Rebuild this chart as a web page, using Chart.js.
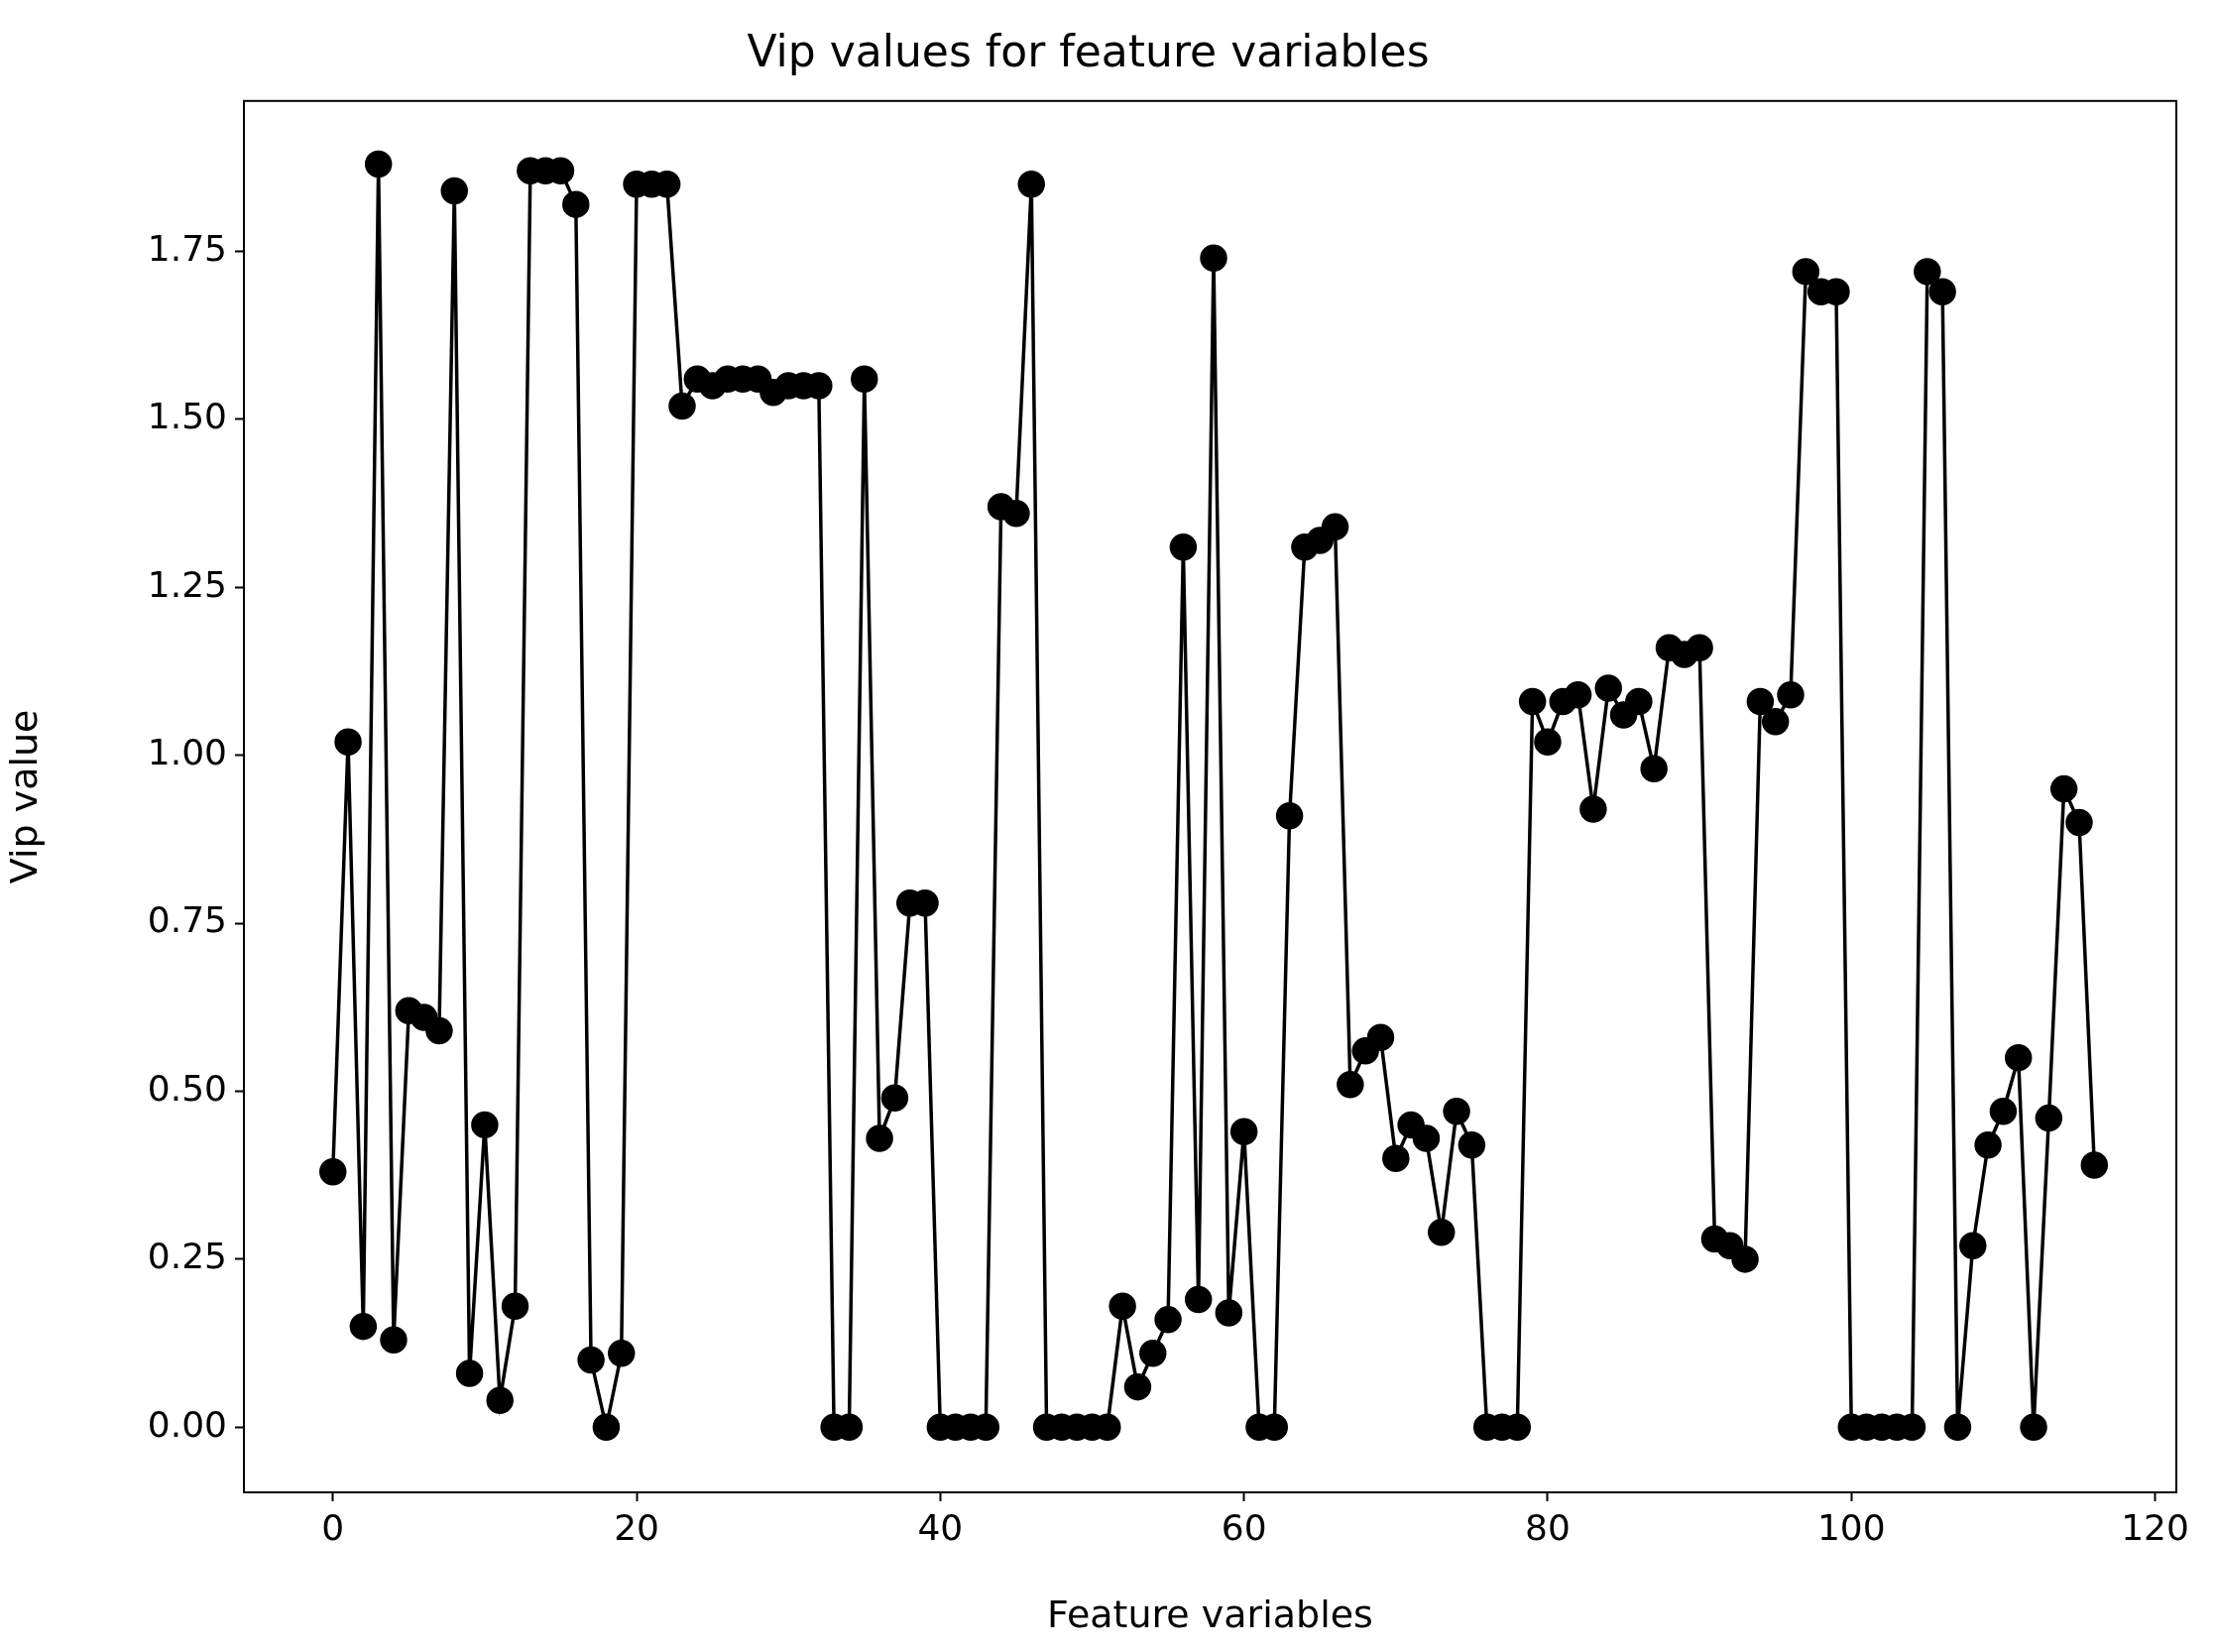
<!DOCTYPE html>
<html><head><meta charset="utf-8">
<script src="https://cdn.jsdelivr.net/npm/chart.js@4"></script>
<style>html,body{margin:0;background:#fff}</style>
</head><body>
<canvas id="c" width="2235" height="1666"></canvas>
<script>
const vipValues = [0.38,1.02,0.15,1.88,0.13,0.62,0.61,0.59,1.84,0.08,
0.45,0.04,0.18,1.87,1.87,1.87,1.82,0.10,0.00,0.11,
1.85,1.85,1.85,1.52,1.56,1.55,1.56,1.56,1.56,1.54,
1.55,1.55,1.55,0,0,1.56,0.43,0.49,0.78,0.78,
0,0,0,0,1.37,1.36,1.85,0,0,0,
0,0,0.18,0.06,0.11,0.16,1.31,0.19,1.74,0.17,
0.44,0,0,0.91,1.31,1.32,1.34,0.51,0.56,0.58,
0.40,0.45,0.43,0.29,0.47,0.42,0,0,0,1.08,
1.02,1.08,1.09,0.92,1.10,1.06,1.08,0.98,1.16,1.15,
1.16,0.28,0.27,0.25,1.08,1.05,1.09,1.72,1.69,1.69,
0,0,0,0,0,1.72,1.69,0,0.27,0.42,
0.47,0.55,0,0.46,0.95,0.90,0.39];
const xTicks = [0,20,40,60,80,100,120];
const yTicks = [0,0.25,0.5,0.75,1.0,1.25,1.5,1.75];
const pts = vipValues.map((v,i)=>({x:i,y:v}));
const F = 'DejaVu Sans';
new Chart(document.getElementById('c'),{
 type:'line',
 data:{datasets:[{data:pts,borderColor:'#000',backgroundColor:'#000',borderWidth:3.5,pointRadius:12,pointHoverRadius:12,tension:0}]},
 options:{responsive:false,animation:false,devicePixelRatio:1,
  layout:{padding:{top:7,right:40,bottom:8,left:0}},
  plugins:{legend:{display:false},tooltip:{enabled:false},
   title:{display:true,text:'Vip values for feature variables',color:'#000',font:{family:F,size:44,weight:'normal'},padding:{top:22,bottom:20}}},
  scales:{
   x:{type:'linear',min:-5.86,max:121.4,
    afterBuildTicks:a=>{a.ticks=xTicks.map(v=>({value:v}));},
    afterFit:a=>{a.height=153;},
    grid:{display:true,drawOnChartArea:false,drawTicks:true,tickLength:9,tickColor:'#000',tickWidth:2},
    border:{color:'#000',width:2},
    ticks:{color:'#000',font:{family:F,size:36},padding:8,maxRotation:0,callback:v=>String(v)},
    title:{display:true,text:'Feature variables',color:'#000',font:{family:F,size:38},padding:{top:6}}},
   y:{min:-0.097,max:1.974,
    afterBuildTicks:a=>{a.ticks=yTicks.map(v=>({value:v}));},
    afterFit:a=>{a.width=246;},
    grid:{display:true,drawOnChartArea:false,drawTicks:true,tickLength:9,tickColor:'#000',tickWidth:2},
    border:{color:'#000',width:2},
    ticks:{color:'#000',font:{family:F,size:36},padding:8,callback:v=>Number(v).toFixed(2)},
    title:{display:true,text:'Vip value',color:'#000',font:{family:F,size:38},padding:{bottom:4}}}
  }},
 plugins:[{id:'frame',afterDraw(c){const a=c.chartArea,x=c.ctx;x.save();x.strokeStyle='#000';x.lineWidth=2;x.strokeRect(a.left,a.top,a.right-a.left,a.bottom-a.top);x.restore();}}]
});
</script></body></html>
